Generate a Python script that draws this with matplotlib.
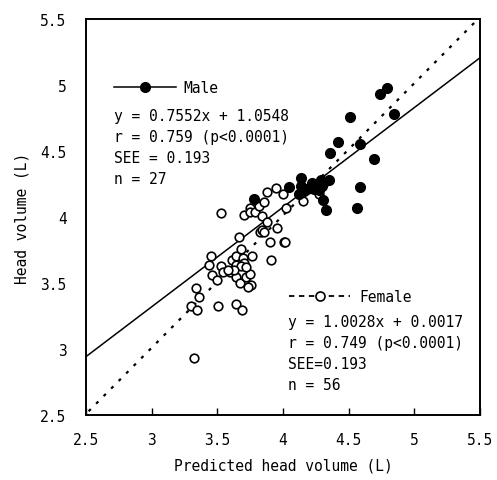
import matplotlib
matplotlib.use("Agg")
import matplotlib.pyplot as plt
from matplotlib.lines import Line2D
import numpy as np

plt.rcParams['font.family'] = ['DejaVu Sans Mono']

male_x = [4.795, 4.739, 4.841, 4.506, 4.415, 4.587, 4.356, 4.689, 4.587, 4.564,
          4.324, 4.301, 4.349, 4.047, 4.136, 4.136, 4.118, 4.181, 4.220, 4.258,
          4.288, 4.293, 3.781, 4.232, 4.273, 4.156, 4.314]
male_y = [4.977, 4.932, 4.783, 4.760, 4.566, 4.556, 4.485, 4.439, 4.232, 4.071,
          4.051, 4.129, 4.280, 4.232, 4.300, 4.237, 4.179, 4.212, 4.258, 4.237,
          4.280, 4.237, 4.141, 4.212, 4.207, 4.199, 4.268]

female_x = [3.324, 3.299, 3.345, 3.357, 3.334, 3.507, 3.644, 3.689, 3.436, 3.451,
            3.461, 3.497, 3.527, 3.542, 3.598, 3.608, 3.639, 3.644, 3.644, 3.679,
            3.695, 3.700, 3.674, 3.715, 3.745, 3.760, 3.758, 3.735, 3.667, 3.527,
            3.700, 3.745, 3.750, 3.786, 3.816, 3.852, 3.842, 3.877, 3.826, 3.842,
            3.852, 3.877, 3.943, 3.999, 3.953, 3.897, 3.907, 4.004, 4.014, 4.024,
            4.151, 4.273, 3.680, 3.720, 3.630, 3.580]
female_y = [2.929, 3.328, 3.293, 3.396, 3.465, 3.328, 3.338, 3.293, 3.639, 3.707,
            3.558, 3.523, 3.626, 3.581, 3.581, 3.672, 3.707, 3.636, 3.548, 3.758,
            3.692, 3.649, 3.500, 3.545, 3.568, 3.707, 3.487, 3.467, 3.846, 4.028,
            4.015, 4.073, 4.040, 4.040, 4.086, 4.111, 4.005, 3.960, 3.889, 3.904,
            3.889, 4.194, 4.222, 4.179, 3.914, 3.808, 3.672, 3.808, 3.813, 4.068,
            4.121, 4.179, 3.630, 3.620, 3.600, 3.600]

male_slope, male_intercept = 0.7552, 1.0548
female_slope, female_intercept = 1.0028, 0.0017

male_text = ["y = 0.7552x + 1.0548", "r = 0.759 (p<0.0001)", "SEE = 0.193", "n = 27"]
female_text = ["y = 1.0028x + 0.0017", "r = 0.749 (p<0.0001)", "SEE=0.193", "n = 56"]

xticks = [2.5, 3, 3.5, 4, 4.5, 5, 5.5]
yticks = [2.5, 3, 3.5, 4, 4.5, 5, 5.5]

fig = plt.figure(figsize=(4.97, 4.81), dpi=100)
ax = fig.add_axes([0.173, 0.135, 0.793, 0.823])

fs = 10.5
xl = np.array([2.5, 5.5])
ax.plot(xl, male_slope * xl + male_intercept, color='black', lw=1.1, zorder=2)
ax.plot([2.52, 5.46], female_slope * np.array([2.52, 5.46]) + female_intercept,
        color='black', lw=1.6, linestyle=(0, (1.4, 3.4)), zorder=2)

ax.plot(female_x, female_y, linestyle='none', marker='o', markersize=6.2,
        markerfacecolor='white', markeredgecolor='black', markeredgewidth=1.2, zorder=3)
ax.plot(male_x, male_y, linestyle='none', marker='o', markersize=7,
        markerfacecolor='black', markeredgecolor='black', zorder=4)

ax.set_xlim(2.5, 5.5)
ax.set_ylim(2.5, 5.5)
ax.set_xticks(xticks)
ax.set_yticks(yticks)
ax.set_xticklabels([f"{v:g}" for v in xticks], fontsize=fs)
ax.set_yticklabels([f"{v:g}" for v in yticks], fontsize=fs)
ax.tick_params(axis='x', direction='in', length=5, width=1, pad=12)
ax.tick_params(axis='y', length=0, pad=14)
for s in ax.spines.values():
    s.set_linewidth(1.4)

ax.set_xlabel("Predicted head volume (L)", fontsize=fs, labelpad=8)
ax.set_ylabel("Head volume (L)", fontsize=fs, labelpad=8)

h_m = Line2D([], [], color='black', lw=1.1, marker='o', markersize=7,
             markerfacecolor='black')
leg1 = ax.legend([h_m], ["Male"], loc='center left', bbox_to_anchor=(0.07, 0.828),
                 frameon=False, borderpad=0, borderaxespad=0, handlelength=4.3,
                 handletextpad=0.5, fontsize=fs, numpoints=1)
ax.add_artist(leg1)
h_f = Line2D([], [], color='black', lw=1.3, linestyle=(0, (3, 2.5)), marker='o',
             markersize=6.5, markerfacecolor='white', markeredgewidth=1.2)
ax.legend([h_f], ["Female"], loc='center left', bbox_to_anchor=(0.515, 0.30),
          frameon=False, borderpad=0, borderaxespad=0, handlelength=4.2,
          handletextpad=0.6, fontsize=fs, numpoints=1)

step = 21 / 396
for i, t in enumerate(male_text):
    ax.text(0.072, (416 - 116.5) / 396 - i * step, t, transform=ax.transAxes,
            fontsize=fs, va='center', ha='left')
for i, t in enumerate(female_text):
    ax.text(0.512, (416 - 322.5) / 396 - i * step, t, transform=ax.transAxes,
            fontsize=fs, va='center', ha='left')

fig.savefig("out.png", dpi=100)
